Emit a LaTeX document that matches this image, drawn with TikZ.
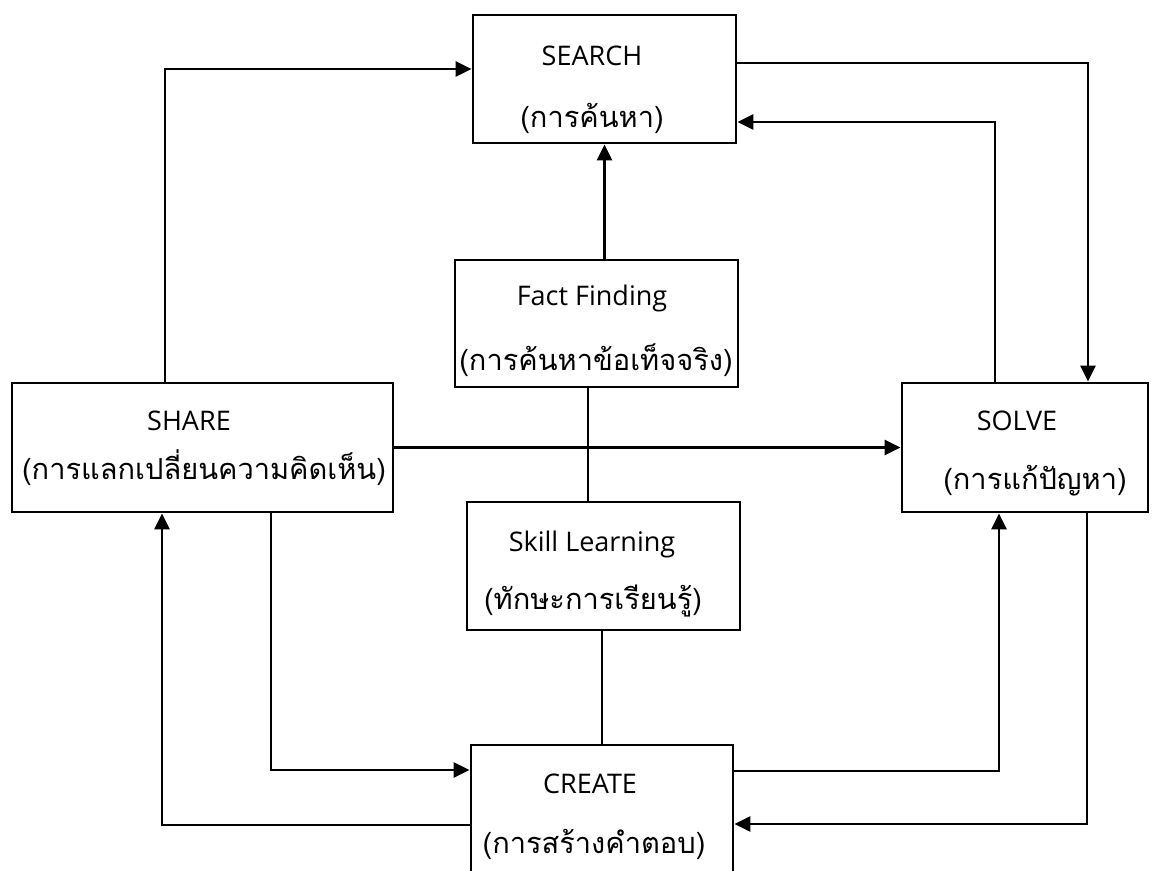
\documentclass[tikz,border=0pt]{standalone}
\usepackage{fontspec}
\setmainfont[Script=Thai]{Loma}
\newfontfamily\enfont{Open Sans}
\usetikzlibrary{arrows.meta}
\usetikzlibrary{calc}

\begin{document}
\begin{tikzpicture}[x=1pt,y=-1pt,
  box/.style={draw,line width=2.8pt,rectangle,inner sep=0pt},
  entext/.style={inner sep=0pt,text height=20pt,text depth=0pt,font=\enfont\fontsize{27}{30}\selectfont},
  thtext/.style={inner sep=0pt,text height=20pt,text depth=0pt,font=\fontsize{29}{33}\selectfont},
  conn/.style={line width=2.8pt,-{Triangle[length=16pt,width=15pt]}},
  link/.style={line width=2.8pt}]
\clip (0,0) rectangle (1155,870);

%Shape: Rectangle [search]
\node [box,minimum width=263,minimum height=128] (search) at (604.5,79) {};
%Shape: Rectangle [fact]
\node [box,minimum width=283,minimum height=127] (fact) at (596.5,323.5) {};
%Shape: Rectangle [share]
\node [box,minimum width=381,minimum height=129] (share) at (202.5,447.5) {};
%Shape: Rectangle [solve]
\node [box,minimum width=246,minimum height=129] (solve) at (1025,447.5) {};
%Shape: Rectangle [skill]
\node [box,minimum width=273,minimum height=128] (skill) at (603.5,566) {};
%Shape: Rectangle [create]
\node [box,minimum width=262,minimum height=145] (create) at (602,817.5) {};

% Text Node
\node [entext] (searchen) at (592,55) {SEARCH};
% Text Node
\node [thtext] (searchth) at (592,117) {(การค้นหา)};
% Text Node
\node [entext] (facten) at (592,295) {Fact Finding};
% Text Node
\node [thtext] (factth) at (596,360) {(การค้นหาข้อเท็จจริง)};
% Text Node
\node [entext] (shareen) at (189,420) {SHARE};
% Text Node
\node [thtext] (shareth) at (204,469) {(การแลกเปลี่ยนความคิดเห็น)};
% Text Node
\node [entext] (solveen) at (1017,420) {SOLVE};
% Text Node
\node [thtext] (solveth) at (1035,479) {(การแก้ปัญหา)};
% Text Node
\node [entext] (skillen) at (592,541) {Skill Learning};
% Text Node
\node [thtext] (skillth) at (593,599) {(ทักษะการเรียนรู้)};
% Text Node
\node [entext] (createen) at (590,783) {CREATE};
% Text Node
\node [thtext] (createth) at (594,843) {(การสร้างคำตอบ)};

%Connector: share -> search
\draw [conn] ($(share.north)+(-37.5,0)$) |- ($(search.west)+(0,-10)$);
%Connector: search -> solve
\draw [conn] ($(search.east)+(0,-16)$) -| ($(solve.north)+(63,0)$);
%Connector: solve -> search
\draw [conn] ($(solve.north)+(-30,0)$) |- ($(search.east)+(0,43)$);
%Connector: fact -> search
\draw [conn] (fact.north -| search.south) -- (search.south);
%Line: fact -- skill
\coordinate (factlow) at ($(fact.south)+(-8.5,0)$);
\draw [link] (factlow) -- (factlow |- skill.north);
%Line: skill -- create
\draw [link] (skill.south -| create.north) -- (create.north);
%Connector: share -> solve
\draw [conn] (share.east) -- (solve.west);
%Connector: share -> create
\draw [conn] ($(share.south)+(68.5,0)$) |- ($(create.west)+(0,-47.5)$);
%Connector: create -> share
\draw [conn] ($(create.west)+(0,7.5)$) -| ($(share.south)+(-40.5,0)$);
%Connector: create -> solve
\draw [conn] ($(create.east)+(0,-46.5)$) -| ($(solve.south)+(-26,0)$);
%Connector: solve -> create
\draw [conn] ($(solve.south)+(62,0)$) |- ($(create.east)+(0,6.5)$);

\end{tikzpicture}
\end{document}
